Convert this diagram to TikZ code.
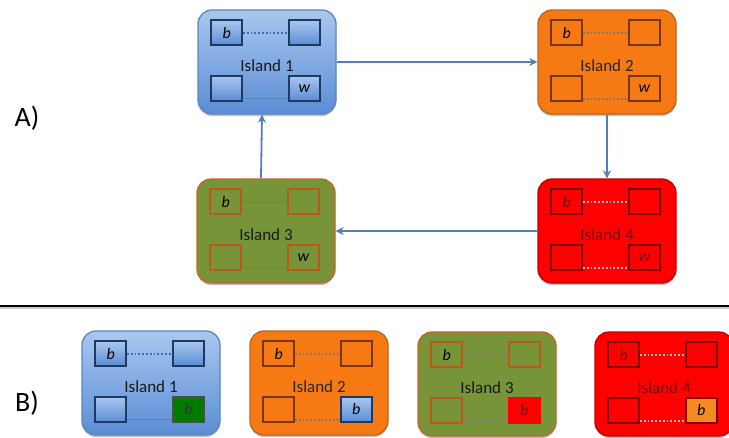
\documentclass[tikz,border=0pt]{standalone}
\usepackage{fontspec}
\setmainfont{Carlito}
\usetikzlibrary{arrows.meta,shadows}
\definecolor{bluetop}{HTML}{A9C7EF}
\definecolor{bluebot}{HTML}{5A8DD5}
\definecolor{bluebd}{HTML}{5B86C0}
\definecolor{navy}{HTML}{1F3A60}
\definecolor{orangefill}{HTML}{F67A14}
\definecolor{orangebd}{HTML}{C0651A}
\definecolor{brownbd}{HTML}{7A3510}
\definecolor{greenfill}{HTML}{779438}
\definecolor{greenbd}{HTML}{C8642A}
\definecolor{sqgreenbd}{HTML}{C0561A}
\definecolor{redfill}{HTML}{FF0000}
\definecolor{redbd}{HTML}{C00000}
\definecolor{darkred}{HTML}{7A0000}
\definecolor{arrowc}{HTML}{4F7FBE}
\definecolor{dkgreen}{HTML}{007A00}
\definecolor{orsq}{HTML}{F58A20}
\definecolor{linkblue}{HTML}{4A6A9A}
\definecolor{linkblue2}{HTML}{5580BE}
\definecolor{linkgrey}{HTML}{857870}
\definecolor{linkgreen}{HTML}{5F8090}
\definecolor{linkpink}{HTML}{F5B5B5}
\tikzset{
  box/.style={rounded corners=14pt, minimum width=138pt, minimum height=104pt, inner sep=0pt, line width=1.3pt,
    drop shadow={shadow xshift=0pt, shadow yshift=-2pt, opacity=0.25, fill=black}},
  boxblue/.style={box, draw=bluebd, top color=bluetop, bottom color=bluebot},
  boxorange/.style={box, draw=orangebd, fill=orangefill},
  boxgreen/.style={box, draw=greenbd, fill=greenfill},
  boxred/.style={box, draw=redbd, fill=redfill},
  lbl/.style={font=\fontsize{17}{17}\selectfont, inner sep=0pt},
  lblblue/.style={lbl, text=black!90},
  lblorange/.style={lbl, text=black!85},
  lblgreen/.style={lbl, text=black!90},
  lblred/.style={lbl, text=darkred},
  sq/.style={minimum width=31pt, minimum height=25pt, inner sep=0pt, line width=1.6pt,
    font=\itshape\fontsize{16}{16}\selectfont},
  sqblue/.style={sq, draw=navy, top color=bluetop, bottom color=bluebot, text=black},
  sqorange/.style={sq, draw=brownbd, fill=orangefill, text=black},
  sqgreen/.style={sq, draw=sqgreenbd, fill=greenfill, text=black},
  sqred/.style={sq, draw=darkred, fill=redfill, text=darkred},
  sqdkgreen/.style={sq, draw=black!70, fill=dkgreen, text=black!80},
  sqredfill/.style={sq, draw=redfill, fill=redfill, text=darkred},
  sqorfill/.style={sq, draw=darkred, fill=orsq, text=black},
  ltopblue/.style={draw=linkblue, line width=1.8pt, dotted},
  lbotblue/.style={draw=linkblue2, line width=1.6pt},
  lgrey/.style={draw=linkgrey, line width=1.8pt, dotted},
  lgreen/.style={draw=linkgreen, line width=1.6pt},
  lpink/.style={draw=linkpink, line width=1.8pt, dotted},
  arr/.style={draw=arrowc, line width=1.8pt, -{Stealth[length=8pt,width=8pt]}},
  tag/.style={font=\fontsize{28}{28}\selectfont, inner sep=0pt}
}
\newcommand\island[8]{%
  \node[box#3] (#1) at (#2) {};
  \node[lbl#3] (#1-lab) at ([yshift=-4pt]#1.center) {#4};
  \node[sq#3, anchor=north west] (#1-tl) at ([xshift=13pt,yshift=-10pt]#1.north west) {b};
  \node[sq#3, anchor=north east] (#1-tr) at ([xshift=-16pt,yshift=-10pt]#1.north east) {};
  \node[sq#3, anchor=south west] (#1-bl) at ([xshift=13pt,yshift=13pt]#1.south west) {};
  \node[#7, anchor=south east] (#1-br) at ([xshift=-16pt,yshift=13pt]#1.south east) {#8};
  \draw[#5] (#1-tl.east) -- (#1-tr.west);
  \draw[#6] ([yshift=3pt]#1-bl.south east) -- ([yshift=3pt]#1-br.south west);
}
\begin{document}
\begin{tikzpicture}[x=1pt,y=-1pt]
\useasboundingbox[fill=white] (0,0) rectangle (729,437);
% part A
\island{a1}{267,62}{blue}{Island 1}{ltopblue}{lbotblue}{sqblue}{w}
\island{a2}{607,62}{orange}{Island 2}{lgrey}{lgrey}{sqorange}{w}
\island{a3}{266,231}{green}{Island 3}{lgreen}{lgreen}{sqgreen}{w}
\island{a4}{607,231}{red}{Island 4}{lpink}{lpink}{sqred}{w}
\draw[arr] (a1.east) -- (a2.west);
\draw[arr] (a2.south) -- (a4.north);
\draw[arr] (a4.west) -- (a3.east);
\draw[arr] ([xshift=-5pt]a3.north) -- ([xshift=-5pt]a1.south);
\node[tag] (ta) at (27,118) {A)};
% rule
\draw[black!20, line width=1.5pt] (0,308) -- (729,308);
\draw[black, line width=2.6pt] (0,306) -- (729,306);
% part B
\island{b1}{151,383}{blue}{Island 1}{ltopblue}{lbotblue}{sqdkgreen}{b}
\island{b2}{319,383}{orange}{Island 2}{lgrey}{lgrey}{sqblue}{b}
\island{b3}{487,384}{green}{Island 3}{lgrey}{lgrey}{sqredfill}{b}
\island{b4}{664,384}{red}{Island 4}{lpink}{lpink}{sqorfill}{b}
\node[tag] (tb) at (27,403) {B)};
\end{tikzpicture}
\end{document}
